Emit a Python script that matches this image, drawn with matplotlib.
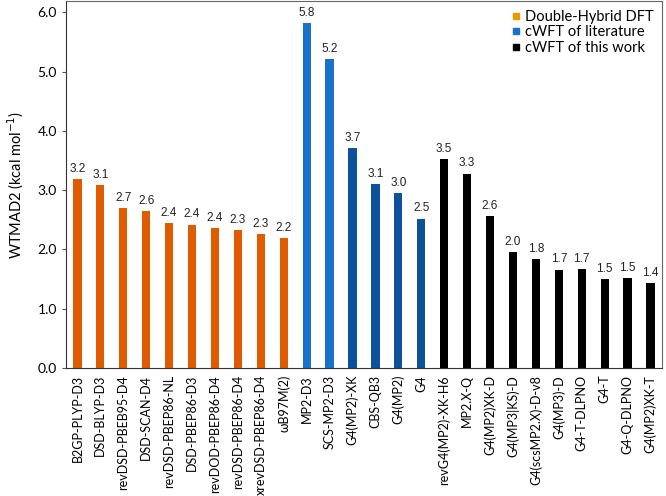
import numpy as np
import matplotlib
matplotlib.use("Agg")
import matplotlib.pyplot as plt
from matplotlib.lines import Line2D

# data
methods = ["B2GP-PLYP-D3", "DSD-BLYP-D3", "revDSD-PBEB95-D4", "DSD-SCAN-D4",
           "revDSD-PBEP86-NL", "DSD-PBEP86-D3", "revDOD-PBEP86-D4",
           "revDSD-PBEP86-D4", "xrevDSD-PBEP86-D4", "ωB97M(2)",
           "MP2-D3", "SCS-MP2-D3", "G4(MP2)-XK", "CBS-QB3", "G4(MP2)", "G4",
           "revG4(MP2)-XK-H6", "MP2.X-Q", "G4(MP2)XK-D", "G4(MP3|KS)-D",
           "G4(scsMP2.X)-D-v8", "G4(MP3)-D", "G4-T-DLPNO", "G4-T",
           "G4-Q-DLPNO", "G4(MP2)XK-T"]
wtmad2 = [3.19, 3.08, 2.70, 2.64, 2.44, 2.42, 2.36, 2.33, 2.26, 2.19,
          5.82, 5.21, 3.71, 3.10, 2.95, 2.52,
          3.53, 3.28, 2.56, 1.96, 1.84, 1.66, 1.67, 1.50, 1.52, 1.43]
groups = ["dh"] * 10 + ["lit1"] * 2 + ["lit2"] * 4 + ["this"] * 10

colmap = {"dh": "#E05A00", "lit1": "#1872CC", "lit2": "#0B519C", "this": "#000000"}
legend_items = [("Double-Hybrid DFT", "#E39B00"),
                ("cWFT of literature", "#1872CC"),
                ("cWFT of this work", "#000000")]

plt.rcParams['font.family'] = ['Lato', 'DejaVu Sans']

fig = plt.figure(figsize=(6.66, 4.96), dpi=100)
ax = fig.add_axes([0.099, 0.258, 0.895, 0.74])

x = np.arange(len(methods))
cols = [colmap[g] for g in groups]
ax.bar(x, wtmad2, width=0.36, color=cols)

for xi, v in zip(x, wtmad2):
    ax.text(xi, v + 0.07, "%.1f" % v, ha="center", va="bottom", fontsize=8.5,
            family=["Liberation Sans", "DejaVu Sans"], color="#222222")

ax.set_xlim(-0.5, len(methods) - 0.5)
ax.set_ylim(0, 6.19)
ax.set_yticks(np.arange(0, 6.1, 1.0))
ax.set_yticklabels(["%.1f" % t for t in np.arange(0, 6.1, 1.0)], fontsize=10)
ax.set_xticks(x)
ax.set_xticklabels(methods, rotation=90, fontsize=9.0)
ax.tick_params(axis="x", length=0, pad=5)
ax.tick_params(axis="y", length=3, width=0.8, color="#555555")
ax.set_ylabel("WTMAD2 (kcal mol$^{-1}$)", fontsize=10.5, labelpad=8)

for s in ["left", "bottom"]:
    ax.spines[s].set_color("#333333")
for s in ["top", "right"]:
    ax.spines[s].set_color("#666666")

handles = [Line2D([], [], marker="s", linestyle="", color=c, markersize=5) for _, c in legend_items]
ax.legend(handles, [l for l, _ in legend_items], loc="upper right", frameon=False,
          fontsize=10.5, handletextpad=0.2, borderaxespad=0.2, labelspacing=0.1,
          handlelength=0.8)

fig.savefig("out.png", dpi=100)
